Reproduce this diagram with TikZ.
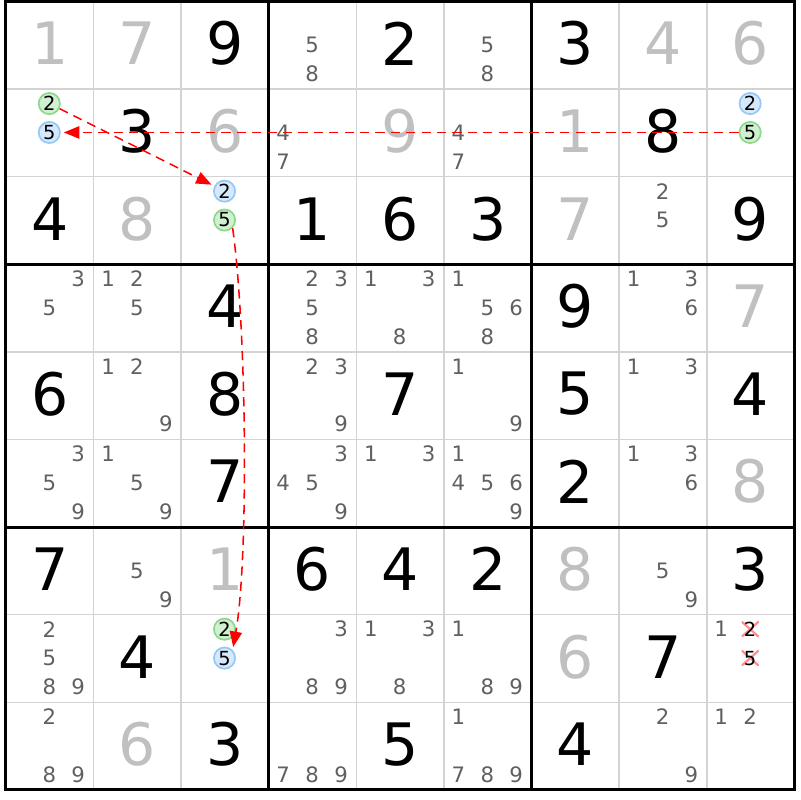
\documentclass[tikz,border=0pt]{standalone}
\usepackage{fontspec}
\setmainfont{DejaVu Sans}
\usetikzlibrary{arrows.meta}

\definecolor{solved}{RGB}{192,192,192}
\definecolor{pencil}{RGB}{96,96,96}
\definecolor{thinline}{RGB}{211,211,211}
\definecolor{onfill}{RGB}{209,240,209}
\definecolor{ondraw}{RGB}{140,216,140}
\definecolor{offfill}{RGB}{214,232,252}
\definecolor{offdraw}{RGB}{150,200,245}
\definecolor{strikered}{RGB}{255,140,140}

\tikzset{
	given/.style={font=\fontsize{19}{19}\selectfont, text=black, inner sep=0pt},
	placed/.style={given, text=solved},
	pencilmark/.style={font=\fontsize{6.9}{7}\selectfont, text=pencil, inner sep=0pt},
	chainmark/.style={shape=circle, minimum size=6.9pt, inner sep=0pt, line width=0.55pt, font=\fontsize{6.3}{7}\selectfont},
	oncand/.style={chainmark, fill=onfill, draw=ondraw},
	offcand/.style={chainmark, fill=offfill, draw=offdraw},
	struck/.style={font=\fontsize{6.3}{7}\selectfont, inner sep=0pt, minimum width=5.6pt, minimum height=5pt,
		path picture={\draw[strikered, line width=0.7pt]
			(path picture bounding box.north west) -- (path picture bounding box.south east)
			(path picture bounding box.south west) -- (path picture bounding box.north east);}},
	thin/.style={thinline, line width=0.5pt},
	box/.style={black, line width=1pt},
	link/.style={red, line width=0.5pt, dash pattern=on 3pt off 2pt, -{Triangle[length=5pt,width=4pt]}, shorten >=1pt},
}

\begin{document}
\begin{tikzpicture}[y=-1cm]
	\useasboundingbox (-0.068,-0.017) rectangle (9.064,9.115);

	% cell lines
	\foreach \i in {1,2,4,5,7,8} {
		\draw[thin] (\i,0) -- (\i,9);
		\draw[thin] (0,\i) -- (9,\i);
	}

	% clues
	\foreach \r/\c/\d in {0/2/9, 0/4/2, 0/6/3, 1/1/3, 1/7/8, 2/0/4, 2/3/1, 2/4/6, 2/5/3, 2/8/9,
		3/2/4, 3/6/9, 4/0/6, 4/2/8, 4/4/7, 4/6/5, 4/8/4, 5/2/7, 5/6/2,
		6/0/7, 6/3/6, 6/4/4, 6/5/2, 6/8/3, 7/1/4, 7/7/7, 8/2/3, 8/4/5, 8/6/4}
		\node[given] (g\r\c) at (\c+0.5, \r+0.48) {\d};

	% filled in
	\foreach \r/\c/\d in {0/0/1, 0/1/7, 0/7/4, 0/8/6, 1/2/6, 1/4/9, 1/6/1, 2/1/8, 2/6/7,
		3/8/7, 5/8/8, 6/2/1, 6/6/8, 7/6/6, 8/1/6}
		\node[placed] (s\r\c) at (\c+0.5, \r+0.48) {\d};

	% pencil marks
	\foreach \r/\c/\d in {0/3/5, 0/3/8, 0/5/5, 0/5/8, 1/3/4, 1/3/7, 1/5/4, 1/5/7, 2/7/2, 2/7/5,
		3/0/3, 3/0/5, 3/1/1, 3/1/2, 3/1/5, 3/3/2, 3/3/3, 3/3/5, 3/3/8, 3/4/1, 3/4/3, 3/4/8,
		3/5/1, 3/5/5, 3/5/6, 3/5/8, 3/7/1, 3/7/3, 3/7/6,
		4/1/1, 4/1/2, 4/1/9, 4/3/2, 4/3/3, 4/3/9, 4/5/1, 4/5/9, 4/7/1, 4/7/3,
		5/0/3, 5/0/5, 5/0/9, 5/1/1, 5/1/5, 5/1/9, 5/3/3, 5/3/4, 5/3/5, 5/3/9, 5/4/1, 5/4/3,
		5/5/1, 5/5/4, 5/5/5, 5/5/6, 5/5/9, 5/7/1, 5/7/3, 5/7/6,
		6/1/5, 6/1/9, 6/7/5, 6/7/9,
		7/0/2, 7/0/5, 7/0/8, 7/0/9, 7/3/3, 7/3/8, 7/3/9, 7/4/1, 7/4/3, 7/4/8, 7/5/1, 7/5/8, 7/5/9, 7/8/1,
		8/0/2, 8/0/8, 8/0/9, 8/3/7, 8/3/8, 8/3/9, 8/5/1, 8/5/7, 8/5/8, 8/5/9, 8/7/2, 8/7/9, 8/8/1, 8/8/2} {
		\pgfmathsetmacro{\px}{\c+0.165+0.33*mod(\d-1,3)}
		\pgfmathsetmacro{\py}{\r+0.165+0.33*floor((\d-1)/3)}
		\node[pencilmark] (p\r\c\d) at (\px,\py) {\d};
	}

	% chain candidates
	\node[oncand]  (r1c0n2) at (0.495,1.165) {2};
	\node[offcand] (r1c0n5) at (0.495,1.495) {5};
	\node[offcand] (r1c8n2) at (8.495,1.165) {2};
	\node[oncand]  (r1c8n5) at (8.495,1.495) {5};
	\node[offcand] (r2c2n2) at (2.495,2.165) {2};
	\node[oncand]  (r2c2n5) at (2.495,2.495) {5};
	\node[oncand]  (r7c2n2) at (2.495,7.165) {2};
	\node[offcand] (r7c2n5) at (2.495,7.495) {5};

	% eliminated
	\node[struck] (r7c8n2) at (8.495,7.165) {2};
	\node[struck] (r7c8n5) at (8.495,7.495) {5};

	% boxes
	\draw[box] (0,0) rectangle (9,9);
	\foreach \i in {3,6} {
		\draw[box] (\i,0) -- (\i,9);
		\draw[box] (0,\i) -- (9,\i);
	}

	\path[link] (r1c0n2) edge (r2c2n2);
	\path[link] (r1c8n5) edge (r1c0n5);
	\draw[link] (r2c2n5.-45) .. controls (2.75,3.75) and (2.77,6.38) .. (r7c2n5.45);
\end{tikzpicture}
\end{document}
